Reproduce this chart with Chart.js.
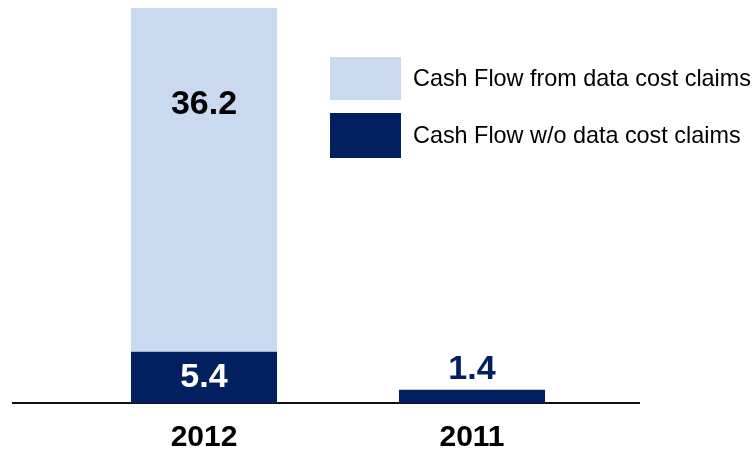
<!DOCTYPE html>
<html>
<head>
<meta charset="utf-8">
<script src="https://cdn.jsdelivr.net/npm/chart.js@4"></script>
<style>
  html, body { margin: 0; padding: 0; background: #fff; }
  #wrap { position: relative; width: 756px; height: 451px; overflow: hidden; }
  canvas { position: absolute; left: 0; top: 0; }
  .legend-item { position: absolute; left: 330px; display: flex; align-items: center; }
  .swatch { width: 71px; }
  .legend-text { margin-left: 12px; font-family: "Liberation Sans", Arial, sans-serif; font-size: 23.4px; color: #000; white-space: nowrap; }
</style>
</head>
<body>
<div id="wrap">
  <canvas id="chart" width="756" height="473"></canvas>
  <div id="legend"></div>
</div>
<script>
// Cash flow, two years, split by source
const years = ['2012', '2011'];
const withoutClaims = [5.4, 1.4];
const fromClaims = [36.2, null];
const seriesNames = ['Cash Flow from data cost claims', 'Cash Flow w/o data cost claims'];
const colours = { light: '#C9D9EF', navy: '#022060' };

const FONT = '"Liberation Sans", Arial, sans-serif';

// Horizontal base line spanning beyond the bars
const baseLine = {
  id: 'baseLine',
  beforeDatasetsDraw(chart) {
    const y = chart.scales.y.getPixelForValue(0);
    const ctx = chart.ctx;
    ctx.save();
    ctx.strokeStyle = '#111';
    ctx.lineWidth = 2;
    ctx.beginPath();
    ctx.moveTo(12, y);
    ctx.lineTo(640, y);
    ctx.stroke();
    ctx.restore();
  }
};

// Value labels written on each segment
const valueLabels = {
  id: 'valueLabels',
  afterDatasetsDraw(chart) {
    const ctx = chart.ctx;
    ctx.save();
    ctx.font = 'bold 34px ' + FONT;
    ctx.textAlign = 'center';
    ctx.textBaseline = 'middle';
    chart.data.datasets.forEach((ds, di) => {
      const meta = chart.getDatasetMeta(di);
      meta.data.forEach((el, i) => {
        const v = ds.data[i];
        if (v == null) return;
        const h = el.base - el.y;
        const txt = v.toFixed(1);
        if (ds.key === 'light') {
          ctx.fillStyle = '#000';
          ctx.fillText(txt, el.x, el.y + 97);
        } else if (h >= 38) {
          ctx.fillStyle = '#fff';
          ctx.fillText(txt, el.x, (el.y + el.base) / 2);
        } else {
          ctx.fillStyle = colours.navy;
          ctx.fillText(txt, el.x, el.y - 20);
        }
      });
    });
    ctx.restore();
  }
};

const chart = new Chart(document.getElementById('chart'), {
  type: 'bar',
  data: {
    labels: years,
    datasets: [
      { key: 'navy', label: seriesNames[1], data: withoutClaims, backgroundColor: colours.navy, stack: 's' },
      { key: 'light', label: seriesNames[0], data: fromClaims, backgroundColor: colours.light, stack: 's' }
    ]
  },
  options: {
    responsive: false,
    animation: false,
    events: [],
    layout: { padding: { left: 70, right: 150, top: 8, bottom: 0 } },
    datasets: { bar: { categoryPercentage: 1, barPercentage: 0.545 } },
    plugins: { legend: { display: false }, tooltip: { enabled: false } },
    scales: {
      x: {
        stacked: true,
        grid: { display: false, drawTicks: false },
        border: { display: false },
        ticks: { color: '#000', font: { family: FONT, size: 30, weight: 'bold' }, padding: 17 }
      },
      y: {
        stacked: true,
        display: false,
        min: 0,
        max: 41.6
      }
    }
  },
  plugins: [baseLine, valueLabels]
});

// Legend built from the dataset labels and colours
const legend = document.getElementById('legend');
const order = [1, 0];
const tops = [57, 113];
const heights = [43, 45];
order.forEach((di, k) => {
  const ds = chart.data.datasets[di];
  const item = document.createElement('div');
  item.className = 'legend-item';
  item.style.top = tops[k] + 'px';
  const sw = document.createElement('div');
  sw.className = 'swatch';
  sw.style.height = heights[k] + 'px';
  sw.style.background = ds.backgroundColor;
  const tx = document.createElement('span');
  tx.className = 'legend-text';
  tx.textContent = ds.label;
  item.appendChild(sw);
  item.appendChild(tx);
  legend.appendChild(item);
});
</script>
</body>
</html>
